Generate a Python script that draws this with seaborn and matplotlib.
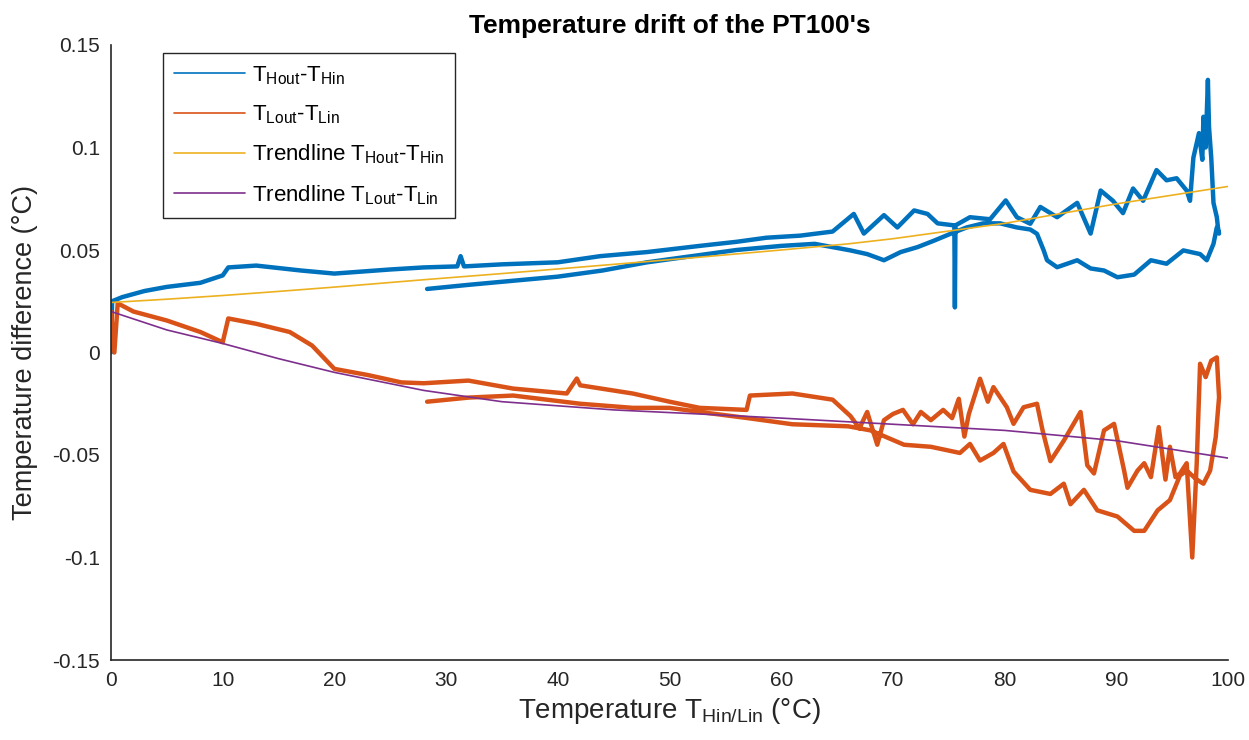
import numpy as np
import pandas as pd
import matplotlib
matplotlib.use("Agg")
import matplotlib.pyplot as plt
import seaborn as sns

# values
# T_Hout - T_Hin, heating run 0 -> 99 degC
hot_up_x = [0, 0.1, 1, 3, 5, 8, 10, 10.5, 13, 17, 20, 25, 28, 31, 31.3, 31.6, 35, 40,
            43.8, 48, 52.7, 56, 58.7, 61.7, 64.6, 66.5, 67.4, 69.2, 70.4, 71.9, 73.1,
            74.0, 75.5, 75.55, 75.6, 76.9, 78.7, 80.1, 81.1, 82.3, 83.2, 84.7, 86.5,
            87.7, 88.6, 89.7, 90.6, 91.5, 92.4, 93.6, 94.5, 95.4, 96.3, 96.6, 96.9,
            97.4, 97.7, 97.8, 98.0, 98.2, 98.3, 98.5, 98.7, 99.0, 99.1]
hot_up_y = [0.0, 0.025, 0.027, 0.030, 0.032, 0.034, 0.0376, 0.0415, 0.0424, 0.040,
            0.0385, 0.0405, 0.0415, 0.042, 0.047, 0.042, 0.043, 0.044, 0.047, 0.049,
            0.052, 0.054, 0.056, 0.057, 0.059, 0.0676, 0.058, 0.067, 0.061, 0.0693,
            0.0676, 0.063, 0.062, 0.022, 0.062, 0.066, 0.065, 0.0742, 0.066, 0.0628,
            0.071, 0.066, 0.073, 0.058, 0.079, 0.074, 0.068, 0.080, 0.074, 0.089, 0.084,
            0.085, 0.079, 0.074, 0.095, 0.107, 0.094, 0.115, 0.100, 0.133, 0.110, 0.095,
            0.073, 0.066, 0.061]
# T_Hout - T_Hin, way back 99 -> 28 degC
hot_back_x = [99.2, 99.0, 98.7, 98.1, 97.5, 96.0, 94.5, 93.1, 91.6, 90.1, 88.9, 87.7,
              86.5, 84.7, 83.8, 83.5, 82.9, 82.3, 81.1, 79.6, 78.1, 76.6, 75.2, 73.7,
              72.2, 70.7, 69.2, 67.7, 66.2, 63, 60, 56, 52, 48, 44, 40, 36, 32, 28.3]
hot_back_y = [0.058, 0.061, 0.053, 0.045, 0.048, 0.0498, 0.0433, 0.045, 0.038, 0.0367,
              0.040, 0.041, 0.045, 0.0416, 0.045, 0.0498, 0.0579, 0.060, 0.061, 0.063,
              0.063, 0.061, 0.058, 0.0546, 0.0514, 0.049, 0.045, 0.048, 0.0498, 0.053,
              0.052, 0.050, 0.047, 0.044, 0.040, 0.037, 0.035, 0.033, 0.031]

# T_Lout - T_Lin, heating run
cold_up_x = [0, 0.3, 0.6, 2, 5, 8, 10, 10.5, 13, 16, 18, 20, 23, 26, 28, 32, 36, 40.8,
             41.7, 42, 46.7, 50, 52.7, 56.9, 57.2, 61, 64.6, 66.2, 67.0, 67.7, 68.6,
             69.2, 70.0, 70.9, 71.8, 72.5, 73.4, 74.5, 75.3, 75.9, 76.4, 76.8, 77.8,
             78.5, 79.0, 80.2, 80.8, 81.7, 82.9, 83.4, 84.1, 85.3, 86.8, 87.4, 88.0,
             88.9, 89.8, 90.7, 91.0, 91.9, 92.5, 93.1, 93.8, 94.4, 94.8, 95.3, 95.7,
             96.3, 96.8, 97.2, 97.5, 98.0, 98.5, 99.0, 99.2]
cold_up_y = [0.02, 0.0, 0.024, 0.02, 0.0156, 0.010, 0.005, 0.0166, 0.014, 0.010, 0.0034,
             -0.008, -0.011, -0.0146, -0.015, -0.0137, -0.0176, -0.020, -0.0127, -0.016,
             -0.020, -0.024, -0.027, -0.028, -0.021, -0.020, -0.023, -0.031, -0.037,
             -0.029, -0.045, -0.033, -0.030, -0.028, -0.035, -0.029, -0.033, -0.028,
             -0.032, -0.0226, -0.041, -0.030, -0.0128, -0.024, -0.0169, -0.0267,
             -0.0348, -0.0267, -0.025, -0.038, -0.053, -0.043, -0.029, -0.055, -0.059,
             -0.038, -0.0348, -0.0576, -0.066, -0.0576, -0.054, -0.0608, -0.0364, -0.062,
             -0.046, -0.0608, -0.059, -0.054, -0.100, -0.054, -0.0055, -0.012, -0.004,
             -0.0024, -0.0218]
# T_Lout - T_Lin, way back
cold_back_x = [98.9, 98.4, 97.8, 97.2, 96.3, 95.7, 94.8, 93.7, 92.5, 91.6, 90.1, 88.3,
               87.1, 85.9, 85.3, 84.1, 82.3, 80.8, 79.9, 79.0, 77.8, 76.9, 76.0, 73.4,
               71, 68, 66, 61, 57, 52.7, 50, 46.7, 42, 36, 32, 28.3]
cold_back_y = [-0.0413, -0.0576, -0.064, -0.062, -0.0576, -0.060, -0.072, -0.077, -0.087,
               -0.087, -0.080, -0.077, -0.067, -0.074, -0.064, -0.069, -0.067, -0.058,
               -0.0446, -0.049, -0.0527, -0.0446, -0.049, -0.046, -0.045, -0.038, -0.036,
               -0.035, -0.032, -0.029, -0.027, -0.027, -0.025, -0.021, -0.022, -0.024]

# trendlines
trend_x = [0, 5, 10, 15, 20, 28, 35, 45, 52.7, 60, 66, 70, 80, 90, 100]
trend_hot = [0.0244, 0.026, 0.0278, 0.0298, 0.0319, 0.0355, 0.0385, 0.043, 0.0465,
             0.050, 0.053, 0.0555, 0.063, 0.0725, 0.081]
trend_cold = [0.020, 0.011, 0.0044, -0.003, -0.0097, -0.0185, -0.024, -0.028, -0.030,
              -0.032, -0.0338, -0.035, -0.038, -0.043, -0.0515]

x_ticks = [0, 10, 20, 30, 40, 50, 60, 70, 80, 90, 100]
y_ticks = [-0.15, -0.1, -0.05, 0, 0.05, 0.1, 0.15]
y_tick_labels = ["-0.15", "-0.1", "-0.05", "0", "0.05", "0.1", "0.15"]

sns.set_style("white")
plt.rcParams["font.family"] = ["Liberation Sans", "DejaVu Sans"]
plt.rcParams["mathtext.fontset"] = "custom"
plt.rcParams["mathtext.rm"] = "Liberation Sans"
plt.rcParams["mathtext.it"] = "Liberation Sans"

hot = pd.DataFrame({"x": hot_up_x + hot_back_x, "y": hot_up_y + hot_back_y})
cold = pd.DataFrame({"x": cold_up_x + cold_back_x, "y": cold_up_y + cold_back_y})
trends = pd.DataFrame({"x": trend_x, "hot": trend_hot, "cold": trend_cold})

fig = plt.figure(figsize=(12.49, 7.40), dpi=100)
ax = fig.add_axes([111 / 1249, 1 - 660 / 740, (1228 - 111) / 1249, (660 - 45) / 740])

sns.lineplot(data=hot, x="x", y="y", sort=False, estimator=None, color="#0072BD",
             linewidth=3.2, ax=ax, label=r"T$_{\mathrm{Hout}}$-T$_{\mathrm{Hin}}$")
sns.lineplot(data=cold, x="x", y="y", sort=False, estimator=None, color="#D95319",
             linewidth=3.2, ax=ax, label=r"T$_{\mathrm{Lout}}$-T$_{\mathrm{Lin}}$")
sns.lineplot(data=trends, x="x", y="hot", sort=False, estimator=None, color="#EDB120",
             linewidth=1.2, ax=ax, label=r"Trendline T$_{\mathrm{Hout}}$-T$_{\mathrm{Hin}}$")
sns.lineplot(data=trends, x="x", y="cold", sort=False, estimator=None, color="#7E2F8E",
             linewidth=1.2, ax=ax, label=r"Trendline T$_{\mathrm{Lout}}$-T$_{\mathrm{Lin}}$")

ax.set_xlim(0, 100)
ax.set_ylim(-0.15, 0.15)
ax.set_xticks(x_ticks)
ax.set_xticklabels([str(t) for t in x_ticks])
ax.set_yticks(y_ticks)
ax.set_yticklabels(y_tick_labels)
ax.tick_params(direction="in", length=8, width=1, colors="#262626", labelsize=15, pad=8)
for s in ["top", "right"]:
    ax.spines[s].set_visible(False)
for s in ["left", "bottom"]:
    ax.spines[s].set_color("#262626")
    ax.spines[s].set_linewidth(1.2)

ax.set_xlabel(r"Temperature T$_{\mathrm{Hin/Lin}}$ (°C)", fontsize=20, color="#262626", labelpad=4)
ax.set_ylabel("Temperature difference (°C)", fontsize=19.5, color="#262626", labelpad=10)
ax.set_title("Temperature drift of the PT100's", fontsize=19, fontweight="bold",
             color="black", pad=9)

leg = ax.legend(loc="upper left", bbox_to_anchor=(163 / 1249, 1 - 53 / 740),
                bbox_transform=fig.transFigure, borderaxespad=0, fontsize=16,
                fancybox=False, framealpha=1, edgecolor="#262626", handlelength=3.2,
                labelspacing=0.75, handletextpad=0.3, borderpad=0.5)
leg.get_frame().set_linewidth(1)
for text in leg.get_texts():
    text.set_color("black")
for line in leg.get_lines():
    line.set_linewidth(1.2)

fig.savefig("out.png", dpi=100)
